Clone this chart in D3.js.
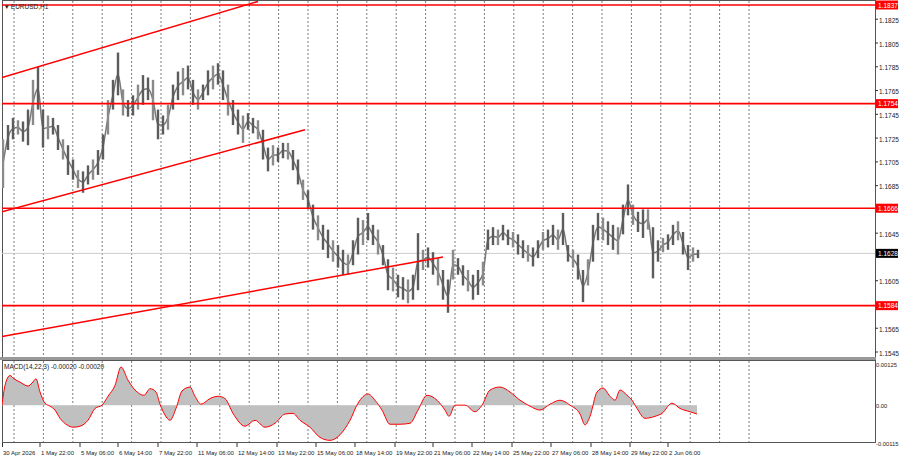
<!DOCTYPE html>
<html><head><meta charset="utf-8">
<script src="https://cdn.jsdelivr.net/npm/d3@7"></script>
<style>body{margin:0;background:#fff}svg{display:block}text{font-family:"Liberation Sans",Arial,sans-serif}</style>
</head><body><svg id="c" width="900" height="460"></svg>
<script>
// bar index i is one sample roughly every ~4 hours
const highs=[1.1724,1.1736,1.1742,1.1740,1.1739,1.1749,1.1774,1.1785,1.1749,1.1744,1.1742,1.1736,1.1724,1.1719,1.1707,1.1698,1.1697,1.1702,1.1707,1.1715,1.1728,1.1757,1.1774,1.1797,1.1766,1.1757,1.1761,1.1770,1.1778,1.1776,1.1774,1.1749,1.1744,1.1753,1.1770,1.1781,1.1784,1.1786,1.1774,1.1766,1.1770,1.1782,1.1786,1.1788,1.1782,1.1770,1.1757,1.1749,1.1744,1.1746,1.1742,1.1740,1.1732,1.1717,1.1719,1.1717,1.1721,1.1721,1.1715,1.1707,1.1690,1.1681,1.1669,1.1660,1.1652,1.1648,1.1639,1.1635,1.1631,1.1627,1.1639,1.1658,1.1656,1.1662,1.1652,1.1648,1.1635,1.1623,1.1616,1.1610,1.1608,1.1606,1.1610,1.1645,1.1631,1.1633,1.1629,1.1624,1.1614,1.1606,1.1631,1.1624,1.1618,1.1614,1.1610,1.1614,1.1621,1.1648,1.1650,1.1648,1.1652,1.1648,1.1646,1.1644,1.1639,1.1635,1.1633,1.1639,1.1646,1.1648,1.1652,1.1648,1.1662,1.1635,1.1631,1.1627,1.1614,1.1623,1.1652,1.1662,1.1658,1.1655,1.1652,1.1650,1.1669,1.1686,1.1669,1.1663,1.1665,1.1665,1.1650,1.1639,1.1641,1.1644,1.1652,1.1655,1.1646,1.1635,1.1633,1.1631];
const lows=[1.1683,1.1715,1.1724,1.1728,1.1722,1.1719,1.1736,1.1749,1.1717,1.1724,1.1728,1.1715,1.1707,1.1694,1.1690,1.1683,1.1679,1.1686,1.1690,1.1694,1.1707,1.1728,1.1749,1.1761,1.1744,1.1743,1.1744,1.1749,1.1753,1.1757,1.1740,1.1724,1.1728,1.1732,1.1749,1.1757,1.1761,1.1766,1.1753,1.1749,1.1757,1.1761,1.1766,1.1770,1.1757,1.1744,1.1736,1.1728,1.1721,1.1732,1.1729,1.1724,1.1707,1.1697,1.1702,1.1705,1.1708,1.1707,1.1698,1.1686,1.1673,1.1666,1.1648,1.1639,1.1631,1.1624,1.1621,1.1616,1.1610,1.1610,1.1618,1.1627,1.1635,1.1639,1.1635,1.1627,1.1618,1.1597,1.1596,1.1591,1.1589,1.1586,1.1589,1.1597,1.1614,1.1616,1.1610,1.1601,1.1589,1.1578,1.1606,1.1610,1.1601,1.1596,1.1589,1.1593,1.1601,1.1631,1.1635,1.1635,1.1639,1.1635,1.1633,1.1627,1.1624,1.1621,1.1617,1.1624,1.1631,1.1633,1.1635,1.1631,1.1635,1.1621,1.1616,1.1606,1.1587,1.1601,1.1621,1.1639,1.1639,1.1635,1.1631,1.1627,1.1644,1.1660,1.1652,1.1646,1.1641,1.1648,1.1607,1.1621,1.1629,1.1631,1.1635,1.1639,1.1627,1.1614,1.1621,1.1624];
const macdIdx=[-0.2,0.4,1.4,2.2,3.4,5,5.8,6.6,7.4,8.4,9.4,10.4,11.4,12.8,14,15.4,17,18.4,19.8,21,22.4,23.6,25,26.4,28.2,29.4,30.6,31.4,32.4,33.4,34.6,35.8,37.4,38.4,39.6,41.4,43,44.4,46,48.4,50.4,52.4,54.4,56.4,58,59.4,61.4,63.4,65.4,67.4,69.4,71,73,74.4,75.8,77.4,79.4,81.4,83,84.8,86.8,88.4,89.2,90.4,92.4,94.4,95.8,97.4,99.4,101.4,103.4,105.4,107.4,109.4,111.4,113.4,115.4,116.4,117.4,118.8,120,121.4,122.4,123.4,124.8,125.8,126.8,128.4,130.4,131.8,133.8,135.4,137.4,138.8];
const macdVals=[0,0.0006,0.0009,0.0008,0.0007,0.00058,0.00067,0.0008,0.0004,0.00006,-0.00003,-0.00015,-0.0004,-0.0006,-0.00067,-0.00064,-0.00046,-0.0001,0,0.00027,0.0006,0.00116,0.00076,0.00046,0.0003,0.0005,0.0004,0.00003,-0.0003,-0.00046,-0.0001,0.00043,0.00055,0.00027,0.00003,0.0002,0.00027,0.0002,-0.00025,-0.00064,-0.00046,-0.00067,-0.00055,-0.00027,-0.00025,-0.00046,-0.00067,-0.00098,-0.00107,-0.0009,-0.00046,0.00006,0.00034,0.00015,-0.00015,-0.00058,-0.00058,-0.00055,-0.00015,0.0003,0.00015,-0.00015,-0.00034,0,0,-0.0002,0,0.00046,0.00055,0.0004,0.00015,-0.00003,-0.00015,0.00003,0.00015,0,-0.00027,-0.0006,-0.00034,0.0004,0.00052,0.00027,0.00015,0.00046,0.0003,0.00015,-0.0001,-0.0004,-0.00034,-0.00025,0.00006,-0.0001,-0.0002,-0.00027];
const levels=[1.1837,1.1754,1.1666,1.1584];
const lastPrice=1.1628;
const trendLines=[[[-0.2,1.1776],[51,1.1840]],[[-0.2,1.1663],[60.4,1.1732]],[[-0.2,1.1558],[88,1.1625]]];
const priceTicks=[1.1825,1.1805,1.1785,1.1765,1.1745,1.1725,1.1705,1.1685,1.1645,1.1605,1.1565,1.1545];
const macdTicks=[[0.00125,"0.00125"],[0,"0.00"],[-0.00115,"-0.00115"]];
const timeLabels=["30 Apr 2026","1 May 22:00","5 May 06:00","6 May 14:00","7 May 22:00","11 May 06:00","12 May 14:00","13 May 22:00","15 May 06:00","18 May 14:00","19 May 22:00","21 May 06:00","22 May 14:00","25 May 22:00","27 May 06:00","28 May 14:00","29 May 22:00","2 Jun 06:00"];
const timeLabelIdx=[-0.2,7.4,15.4,23,31,38.8,46.8,54.8,62.6,70.4,78.4,86,93.8,101.8,109.6,117.6,125.4,133];

const svg=d3.select("#c");
const x=d3.scaleLinear().domain([0,139]).range([3,698]);
const y=d3.scaleLinear().domain([1.1837,1.1545]).range([5,352]);
const ym=d3.scaleLinear().domain([0.00125,-0.00115]).range([364,443]);
const R=875;
svg.append("defs").append("clipPath").attr("id","cp").append("rect").attr("x",2).attr("y",1).attr("width",R-2).attr("height",356);
svg.append("defs").append("clipPath").attr("id","cm").append("rect").attr("x",2).attr("y",361).attr("width",R-2).attr("height",81);
const grid=d3.range(2.2,150,5.88).filter(v=>x(v)<R);
svg.append("g").selectAll("line").data(grid).join("line").attr("x1",d=>x(d)).attr("x2",d=>x(d)).attr("y1",1).attr("y2",443)
 .attr("stroke","#444").attr("stroke-width",0.7).attr("stroke-dasharray","2,2");
svg.append("rect").attr("x",2.5).attr("y",0.5).attr("width",R-2).attr("height",357).attr("fill","none").attr("stroke","#555");
svg.append("rect").attr("x",0).attr("y",357).attr("width",R+1).attr("height",3).attr("fill","#999");
svg.append("rect").attr("x",2.5).attr("y",360.5).attr("width",R-2).attr("height",82).attr("fill","none").attr("stroke","#555");
svg.append("line").attr("x1",2).attr("x2",R).attr("y1",y(lastPrice)).attr("y2",y(lastPrice)).attr("stroke","#ccc");
const gp=svg.append("g").attr("clip-path","url(#cp)");
gp.append("path").datum(highs.map((h,i)=>[i,(h+lows[i])/2])).attr("fill","none").attr("stroke","#777").attr("stroke-width",1.5)
 .attr("d",d3.line().x(d=>x(d[0])).y(d=>y(d[1])).curve(d3.curveMonotoneX));
gp.selectAll("rect.b").data(highs).join("rect").attr("class","b").attr("x",(d,i)=>x(i)-1.2).attr("width",2.4)
 .attr("y",d=>y(d)).attr("height",(d,i)=>y(lows[i])-y(d)).attr("fill",(d,i)=>i%3==0?"#8a8a8a":"#5c5c5c");
gp.selectAll("line.l").data(levels).join("line").attr("x1",2).attr("x2",R).attr("y1",d=>y(d)).attr("y2",d=>y(d)).attr("stroke","#f00").attr("stroke-width",1.6);
gp.selectAll("line.t").data(trendLines).join("line").attr("x1",d=>x(d[0][0])).attr("y1",d=>y(d[0][1])).attr("x2",d=>x(d[1][0])).attr("y2",d=>y(d[1][1])).attr("stroke","#f00").attr("stroke-width",1.6);
const ga=svg.append("g");
ga.selectAll("line").data(priceTicks).join("line").attr("x1",R).attr("x2",R+3).attr("y1",d=>y(d)).attr("y2",d=>y(d)).attr("stroke","#333");
ga.selectAll("text").data(priceTicks).join("text").attr("x",R+4).attr("y",d=>y(d)+3.5).attr("font-size",6.5).attr("fill","#222").text(d=>d.toFixed(4));
const boxes=levels.map(v=>[v,"#f00"]).concat([[lastPrice,"#000"]]);
boxes.forEach(([v,c])=>{ga.append("rect").attr("x",R+1).attr("y",y(v)-4.5).attr("width",22).attr("height",9).attr("fill",c);
 ga.append("text").attr("x",R+3).attr("y",y(v)+2.5).attr("font-size",6.5).attr("fill","#fff").text(v.toFixed(4));});
const gm=svg.append("g").attr("clip-path","url(#cm)");
const md=macdIdx.map((v,i)=>[v,macdVals[i]]);
gm.append("path").datum(md).attr("fill","#c0c0c0").attr("d",d3.area().x(d=>x(d[0])).y0(ym(0)).y1(d=>ym(d[1])).curve(d3.curveMonotoneX));
gm.append("path").datum(md).attr("fill","none").attr("stroke","#f00").attr("stroke-width",1).attr("d",d3.line().x(d=>x(d[0])).y(d=>ym(d[1])).curve(d3.curveMonotoneX));
svg.selectAll("text.m").data(macdTicks).join("text").attr("class","m").attr("x",R+1).attr("y",d=>ym(d[0])+3).attr("font-size",5.8).attr("fill","#222").text(d=>d[1]);
const gb=svg.append("g");
gb.selectAll("line").data(timeLabelIdx).join("line").attr("x1",d=>Math.max(2.5,x(d))).attr("x2",d=>Math.max(2.5,x(d))).attr("y1",443).attr("y2",447).attr("stroke","#333");
gb.selectAll("text").data(timeLabels).join("text").attr("x",(d,i)=>Math.max(2,x(timeLabelIdx[i]))+1).attr("y",455).attr("font-size",6).attr("fill","#222").text(d=>d);
svg.append("text").attr("x",5).attr("y",9).attr("font-size",6.5).attr("fill","#222").text("▾ EURUSD,H1");
svg.append("text").attr("x",4).attr("y",369).attr("font-size",6.5).attr("fill","#222").text("MACD(14,22,3) -0.00020 -0.00020");
</script></body></html>
